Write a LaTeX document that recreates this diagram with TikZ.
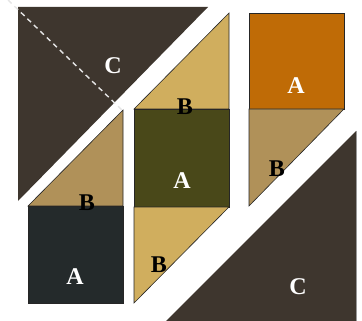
\documentclass[tikz,border=0pt]{standalone}
\usepackage{fontspec}
\setmainfont{Liberation Serif}
\definecolor{cdark}{HTML}{3E362E}
\definecolor{btan}{HTML}{B09159}
\definecolor{bgold}{HTML}{D0AE5E}
\definecolor{aolive}{HTML}{494819}
\definecolor{aslate}{HTML}{242A2B}
\definecolor{aorange}{HTML}{BF6B06}
\tikzset{
  piece/.style={draw=black!85, line width=0.6pt, line join=miter},
  lbl/.style={font=\fontsize{24}{24}\selectfont\bfseries, inner sep=0pt},
  lw/.style={lbl, text=white},
  lk/.style={lbl, text=black},
}
\begin{document}
\begin{tikzpicture}[x=1pt,y=-1pt]
\useasboundingbox (0,0) rectangle (362,321);
% top-left C
\fill[cdark] (18,7) -- (208,7) -- (18,201) -- cycle;
% dashed line
\draw[white!80!gray, line width=1.4pt, dash pattern=on 5pt off 4pt] (8,0) -- (122,110);
% left column
\filldraw[piece, fill=btan] (28,206) -- (123,110) -- (123,206) -- cycle;
\filldraw[piece, fill=aslate] (28,206) rectangle (123,303);
% middle column
\filldraw[piece, fill=bgold] (134,109) -- (229,13) -- (229,109) -- cycle;
\filldraw[piece, fill=aolive] (134,109) rectangle (229,207);
\filldraw[piece, fill=bgold] (134,207) -- (229,207) -- (134,303) -- cycle;
% right column
\filldraw[piece, fill=aorange] (249,13) rectangle (344,109);
\filldraw[piece, fill=btan] (249,109) -- (344,109) -- (249,206) -- cycle;
% bottom-right C
\fill[cdark] (356,131) -- (356,321) -- (166,321) -- cycle;
\draw[black!40, line width=0.8pt] (356.4,131) -- (356.4,321);
% labels
\node[lw] (c1) at (113,66) {C};
\node[lk] (b1) at (185,107) {B};
\node[lw] (a1) at (182,181) {A};
\node[lk] (b2) at (87,203) {B};
\node[lw] (a2) at (75,277) {A};
\node[lk] (b3) at (159,265) {B};
\node[lw] (a3) at (296,86) {A};
\node[lk] (b4) at (277,169) {B};
\node[lw] (c2) at (298,287) {C};
\end{tikzpicture}
\end{document}
